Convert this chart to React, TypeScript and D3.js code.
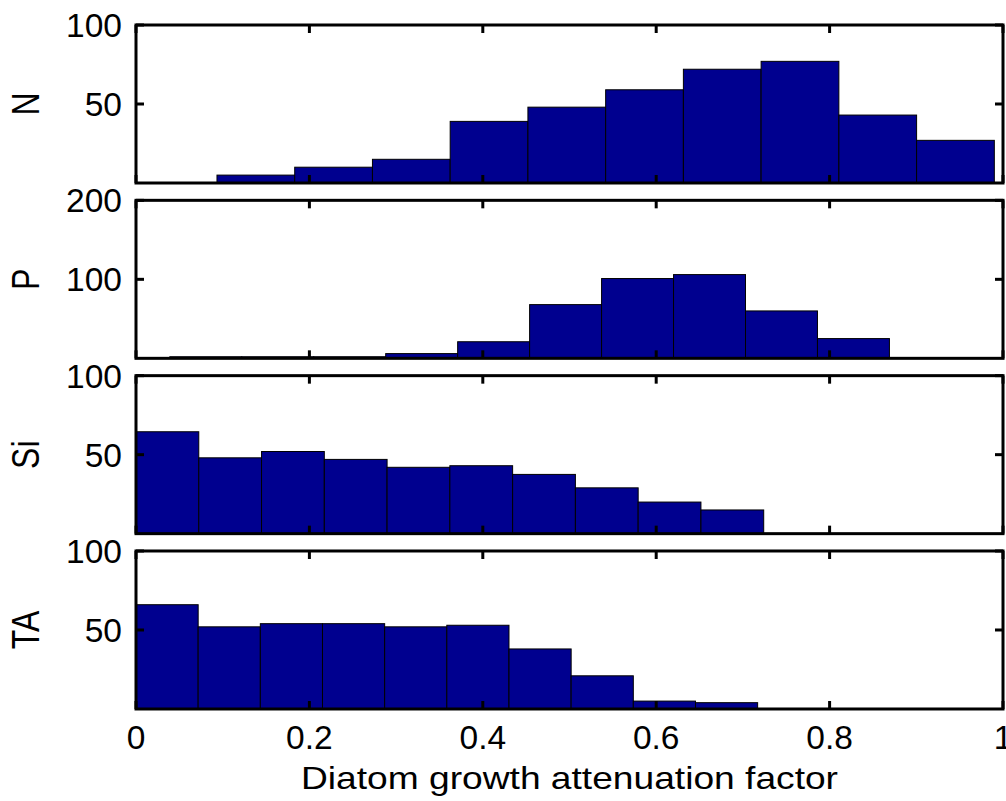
import React from "react";
import * as d3 from "d3";

// Histogram counts per nutrient limitation panel (10 bins each)
const panelNames = ["N", "P", "Si", "TA"];
const nCounts = [5, 10, 15, 39, 48, 59, 72, 77, 43, 27];
const pCounts = [2, 2, 2, 6, 21, 68, 101, 106, 60, 25];
const siCounts = [64.5, 48, 52, 47, 42, 43, 37.5, 29, 20, 15];
const taCounts = [66, 52, 54, 54, 52, 53, 38, 21, 5, 4];

// Data range covered by the bins of each panel [min, max]
const nRange = [0.0934, 0.99];
const pRange = [0.039, 0.869];
const siRange = [0, 0.724];
const taRange = [0, 0.717];

// y-axis limits and ticks per panel
const yMaxes = [100, 200, 100, 100];
const yTickValues = [[50, 100], [100, 200], [50, 100], [50, 100]];

const xTicks = [0, 0.2, 0.4, 0.6, 0.8, 1];
const xTickLabels = ["0", "0.2", "0.4", "0.6", "0.8", "1"];
const xLabel = "Diatom growth attenuation factor";

const counts = [nCounts, pCounts, siCounts, taCounts];
const ranges = [nRange, pRange, siRange, taRange];

const W = 1006;
const H = 801;
const left = 136;
const right = 1003;
const firstTop = 25;
const step = 175.33;
const panelH = 158;
const tickLen = 8;
const font = "'Liberation Sans', Arial, Helvetica, sans-serif";
const barFill = "#00008f";

export default function App() {
  const x = d3.scaleLinear().domain([0, 1]).range([left, right]);

  return (
    <svg
      width={W}
      height={H}
      style={{ position: "absolute", left: 0, top: 0, background: "#fff" }}
      fontFamily={font}
    >
      {panelNames.map((name, i) => {
        const top = firstTop + i * step;
        const bottom = top + panelH;
        const y = d3.scaleLinear().domain([0, yMaxes[i]]).range([bottom, top]);
        const [lo, hi] = ranges[i];
        const data = counts[i];
        const w = (hi - lo) / data.length;
        const cy = (top + bottom) / 2;
        return (
          <g key={name}>
            {data.map((c, k) => {
              const x0 = x(lo + k * w);
              const x1 = x(lo + (k + 1) * w);
              return (
                <rect
                  key={k}
                  x={x0}
                  y={y(c)}
                  width={x1 - x0}
                  height={bottom - y(c)}
                  fill={barFill}
                  stroke="#000"
                  strokeWidth={1}
                />
              );
            })}
            {/* x ticks, bottom and top, pointing inward */}
            {xTicks.map((t) => (
              <g key={"xt" + t}>
                <line x1={x(t)} x2={x(t)} y1={bottom} y2={bottom - tickLen} stroke="#000" strokeWidth={3} />
                <line x1={x(t)} x2={x(t)} y1={top} y2={top + tickLen} stroke="#000" strokeWidth={3} />
              </g>
            ))}
            {/* y ticks, left and right */}
            {yTickValues[i].map((t) => (
              <g key={"yt" + t}>
                <line x1={left} x2={left + tickLen} y1={y(t)} y2={y(t)} stroke="#000" strokeWidth={3} />
                <line x1={right} x2={right - tickLen} y1={y(t)} y2={y(t)} stroke="#000" strokeWidth={3} />
                <text
                  x={left - 14}
                  y={y(t) + 0.358 * 33.5}
                  textAnchor="end"
                  fontSize={33.5}
                  fill="#000"
                >
                  {t}
                </text>
              </g>
            ))}
            <rect
              x={left}
              y={top}
              width={right - left}
              height={panelH}
              fill="none"
              stroke="#000"
              strokeWidth={3}
            />
            <text
              transform={`translate(25.5, ${cy}) rotate(-90) scale(1, 1.2)`}
              y={0.358 * 32}
              textAnchor="middle"
              fontSize={32}
              fill="#000"
            >
              {name}
            </text>
          </g>
        );
      })}
      {xTicks.map((t, k) => (
        <text
          key={"xl" + t}
          x={x(t)}
          y={749}
          textAnchor="middle"
          fontSize={33.5}
          fill="#000"
        >
          {xTickLabels[k]}
        </text>
      ))}
      <text
        transform={`translate(${(left + right) / 2}, 789.3) scale(1.18, 1)`}
        textAnchor="middle"
        fontSize={31.5}
        fill="#000"
      >
        {xLabel}
      </text>
    </svg>
  );
}
